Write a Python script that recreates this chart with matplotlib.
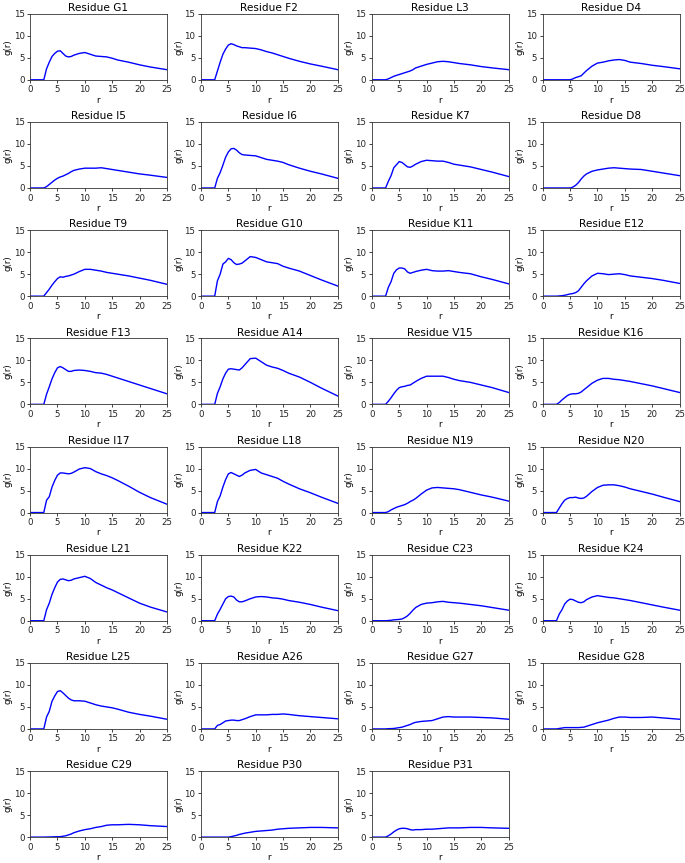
import matplotlib
matplotlib.use("Agg")
import matplotlib.pyplot as plt

r = [0, 2.5, 3, 3.5, 4, 4.5, 5, 5.5, 6, 6.5, 7, 7.5, 8, 9, 10, 11, 12, 13, 14, 15, 16, 18, 20, 22, 25]

G1  = [0, 0, 2.5, 4.0, 5.3, 6.0, 6.5, 6.6, 6.0, 5.4, 5.2, 5.3, 5.6, 6.0, 6.2, 5.8, 5.4, 5.3, 5.2, 4.9, 4.5, 4.0, 3.4, 2.9, 2.3]
F2  = [0, 0, 2.0, 4.0, 5.8, 7.0, 7.9, 8.2, 8.0, 7.7, 7.5, 7.3, 7.3, 7.2, 7.1, 6.8, 6.4, 6.1, 5.7, 5.3, 4.9, 4.2, 3.6, 3.1, 2.3]
L3  = [0, 0, 0.2, 0.5, 0.8, 1.0, 1.2, 1.4, 1.6, 1.8, 2.0, 2.3, 2.7, 3.1, 3.5, 3.8, 4.1, 4.2, 4.1, 3.9, 3.7, 3.4, 3.0, 2.7, 2.3]
D4  = [0, 0, 0, 0, 0, 0, 0, 0.2, 0.5, 0.7, 0.9, 1.5, 2.1, 3.1, 3.8, 4.0, 4.3, 4.5, 4.6, 4.4, 4.0, 3.7, 3.3, 3.0, 2.5]
I5  = [0, 0, 0.3, 0.8, 1.3, 1.8, 2.2, 2.5, 2.7, 3.0, 3.3, 3.7, 4.0, 4.3, 4.5, 4.5, 4.5, 4.6, 4.4, 4.2, 4.0, 3.6, 3.2, 2.9, 2.4]
I6  = [0, 0, 2.2, 3.5, 5.2, 7.0, 8.2, 8.9, 9.0, 8.6, 8.0, 7.6, 7.5, 7.4, 7.3, 6.9, 6.5, 6.3, 6.1, 5.8, 5.3, 4.5, 3.8, 3.2, 2.2]
K7  = [0, 0, 1.5, 2.8, 4.6, 5.3, 6.0, 5.8, 5.3, 4.8, 4.7, 5.0, 5.4, 6.0, 6.3, 6.2, 6.1, 6.1, 5.8, 5.4, 5.2, 4.8, 4.2, 3.6, 2.6]
D8  = [0, 0, 0, 0, 0, 0, 0, 0.2, 0.6, 1.2, 2.0, 2.7, 3.2, 3.8, 4.1, 4.3, 4.5, 4.6, 4.5, 4.4, 4.3, 4.2, 3.8, 3.4, 2.8]
T9  = [0, 0, 0.8, 1.6, 2.5, 3.3, 4.0, 4.4, 4.3, 4.5, 4.6, 4.8, 5.0, 5.6, 6.1, 6.1, 5.9, 5.7, 5.4, 5.2, 5.0, 4.6, 4.1, 3.6, 2.7]
G10 = [0, 0, 3.5, 5.0, 7.3, 7.8, 8.6, 8.3, 7.6, 7.2, 7.3, 7.5, 8.0, 9.0, 8.8, 8.3, 7.8, 7.6, 7.4, 6.8, 6.4, 5.7, 4.7, 3.7, 2.3]
K11 = [0, 0, 2.0, 3.3, 5.2, 6.0, 6.4, 6.4, 6.2, 5.5, 5.2, 5.4, 5.6, 5.9, 6.1, 5.8, 5.7, 5.7, 5.8, 5.6, 5.4, 5.1, 4.4, 3.8, 2.8]
E12 = [0, 0, 0.05, 0.1, 0.2, 0.35, 0.5, 0.6, 0.8, 1.2, 2.0, 2.8, 3.5, 4.6, 5.2, 5.1, 4.9, 5.0, 5.1, 4.9, 4.6, 4.3, 4.0, 3.6, 2.9]
F13 = [0, 0, 2.3, 4.0, 5.8, 7.2, 8.3, 8.6, 8.3, 7.9, 7.5, 7.5, 7.7, 7.8, 7.7, 7.5, 7.2, 7.1, 6.8, 6.4, 6.0, 5.2, 4.4, 3.6, 2.4]
A14 = [0, 0, 2.5, 4.0, 5.8, 7.1, 8.0, 8.1, 8.0, 7.9, 7.8, 8.3, 9.0, 10.4, 10.5, 9.7, 8.9, 8.5, 8.2, 7.7, 7.1, 6.2, 5.0, 3.7, 1.9]
V15 = [0, 0, 0.7, 1.5, 2.4, 3.2, 3.8, 4.0, 4.1, 4.3, 4.4, 4.8, 5.2, 5.9, 6.4, 6.4, 6.4, 6.4, 6.1, 5.7, 5.4, 5.0, 4.4, 3.8, 2.7]
K16 = [0, 0, 0.4, 1.0, 1.5, 2.0, 2.3, 2.4, 2.4, 2.5, 2.8, 3.3, 3.8, 4.8, 5.5, 5.9, 5.9, 5.7, 5.6, 5.4, 5.2, 4.7, 4.2, 3.6, 2.7]
I17 = [0, 0, 2.8, 3.6, 5.8, 7.3, 8.5, 9.0, 9.0, 8.9, 8.8, 8.9, 9.2, 9.9, 10.2, 10.0, 9.3, 8.8, 8.4, 7.9, 7.3, 6.0, 4.6, 3.4, 1.9]
L18 = [0, 0, 2.5, 3.8, 5.8, 7.5, 8.8, 9.1, 8.8, 8.5, 8.2, 8.5, 9.0, 9.6, 9.8, 9.0, 8.6, 8.2, 7.8, 7.1, 6.5, 5.4, 4.5, 3.5, 2.1]
N19 = [0, 0, 0.2, 0.6, 0.9, 1.2, 1.4, 1.6, 1.8, 2.1, 2.5, 2.8, 3.2, 4.2, 5.1, 5.6, 5.7, 5.6, 5.5, 5.4, 5.2, 4.6, 4.0, 3.5, 2.6]
N20 = [0, 0, 1.0, 2.0, 2.8, 3.2, 3.4, 3.4, 3.5, 3.3, 3.2, 3.3, 3.7, 4.8, 5.7, 6.2, 6.3, 6.3, 6.1, 5.8, 5.4, 4.8, 4.2, 3.5, 2.5]
L21 = [0, 0, 2.5, 4.0, 6.0, 7.5, 8.8, 9.4, 9.5, 9.3, 9.1, 9.2, 9.5, 9.8, 10.1, 9.6, 8.7, 8.1, 7.5, 7.0, 6.4, 5.2, 4.0, 3.1, 2.0]
K22 = [0, 0, 1.5, 2.6, 3.8, 5.0, 5.5, 5.6, 5.4, 4.7, 4.3, 4.3, 4.5, 5.0, 5.4, 5.5, 5.4, 5.2, 5.1, 4.9, 4.6, 4.2, 3.7, 3.1, 2.3]
C23 = [0, 0, 0.05, 0.1, 0.2, 0.25, 0.3, 0.4, 0.7, 1.1, 1.7, 2.4, 3.0, 3.7, 4.0, 4.1, 4.3, 4.4, 4.2, 4.1, 4.0, 3.7, 3.4, 3.0, 2.4]
K24 = [0, 0, 1.5, 2.5, 3.8, 4.5, 4.9, 4.8, 4.5, 4.2, 4.1, 4.3, 4.8, 5.4, 5.7, 5.5, 5.3, 5.2, 5.0, 4.8, 4.6, 4.1, 3.6, 3.1, 2.4]
L25 = [0, 0, 2.7, 4.0, 6.3, 7.5, 8.5, 8.7, 8.2, 7.6, 7.0, 6.6, 6.4, 6.4, 6.3, 5.9, 5.5, 5.2, 5.0, 4.8, 4.5, 3.8, 3.3, 2.9, 2.2]
A26 = [0, 0, 0.8, 1.0, 1.4, 1.8, 1.9, 2.0, 2.0, 1.9, 1.9, 2.1, 2.3, 2.8, 3.2, 3.2, 3.2, 3.3, 3.3, 3.4, 3.3, 3.0, 2.8, 2.6, 2.3]
G27 = [0, 0, 0.05, 0.07, 0.1, 0.2, 0.3, 0.4, 0.6, 0.8, 1.0, 1.3, 1.5, 1.7, 1.8, 1.9, 2.3, 2.7, 2.8, 2.7, 2.7, 2.7, 2.6, 2.5, 2.2]
G28 = [0, 0, 0.1, 0.2, 0.3, 0.3, 0.3, 0.3, 0.3, 0.3, 0.35, 0.4, 0.6, 1.0, 1.4, 1.7, 2.0, 2.4, 2.7, 2.7, 2.6, 2.6, 2.7, 2.5, 2.2]
C29 = [0, 0, 0.02, 0.03, 0.05, 0.07, 0.1, 0.1, 0.2, 0.3, 0.5, 0.7, 1.0, 1.4, 1.7, 1.9, 2.2, 2.4, 2.7, 2.8, 2.8, 2.9, 2.8, 2.6, 2.4]
P30 = [0, 0, 0, 0, 0, 0, 0, 0.1, 0.25, 0.4, 0.6, 0.75, 0.9, 1.1, 1.3, 1.4, 1.5, 1.6, 1.8, 1.9, 2.0, 2.1, 2.2, 2.2, 2.1]
P31 = [0, 0, 0.3, 0.7, 1.2, 1.6, 1.9, 2.0, 2.0, 1.9, 1.7, 1.6, 1.7, 1.7, 1.8, 1.8, 1.9, 2.0, 2.1, 2.1, 2.1, 2.2, 2.2, 2.1, 2.0]

names = ["G1", "F2", "L3", "D4", "I5", "I6", "K7", "D8", "T9", "G10", "K11", "E12",
         "F13", "A14", "V15", "K16", "I17", "L18", "N19", "N20", "L21", "K22", "C23",
         "K24", "L25", "A26", "G27", "G28", "C29", "P30", "P31"]
series = [G1, F2, L3, D4, I5, I6, K7, D8, T9, G10, K11, E12, F13, A14, V15, K16,
          I17, L18, N19, N20, L21, K22, C23, K24, L25, A26, G27, G28, C29, P30, P31]

x_ticks = [0, 5, 10, 15, 20, 25]
y_ticks = [0, 5, 10, 15]

plt.rcParams["axes.linewidth"] = 0.6
plt.rcParams["axes.edgecolor"] = "#333333"

fig, axes = plt.subplots(8, 4, figsize=(6.85, 8.63), dpi=100)
fig.subplots_adjust(left=0.044, right=0.992, top=0.984, bottom=0.030,
                    wspace=0.25, hspace=0.64)

for i, ax in enumerate(axes.flat):
    if i >= len(series):
        ax.axis("off")
        continue
    ax.plot(r, series[i], color="blue", lw=1.0)
    ax.set_xlim(0, 25)
    ax.set_ylim(0, 15)
    ax.set_xticks(x_ticks)
    ax.set_yticks(y_ticks)
    ax.tick_params(labelsize=6.2, length=2.5, width=0.6, pad=1.5, colors="#222222")
    ax.set_title("Residue " + names[i], fontsize=7.6, pad=2)
    ax.set_xlabel("r", fontsize=6.2, labelpad=1)
    ax.set_ylabel("g(r)", fontsize=6.2, labelpad=1)

fig.savefig("out.png", dpi=100)
